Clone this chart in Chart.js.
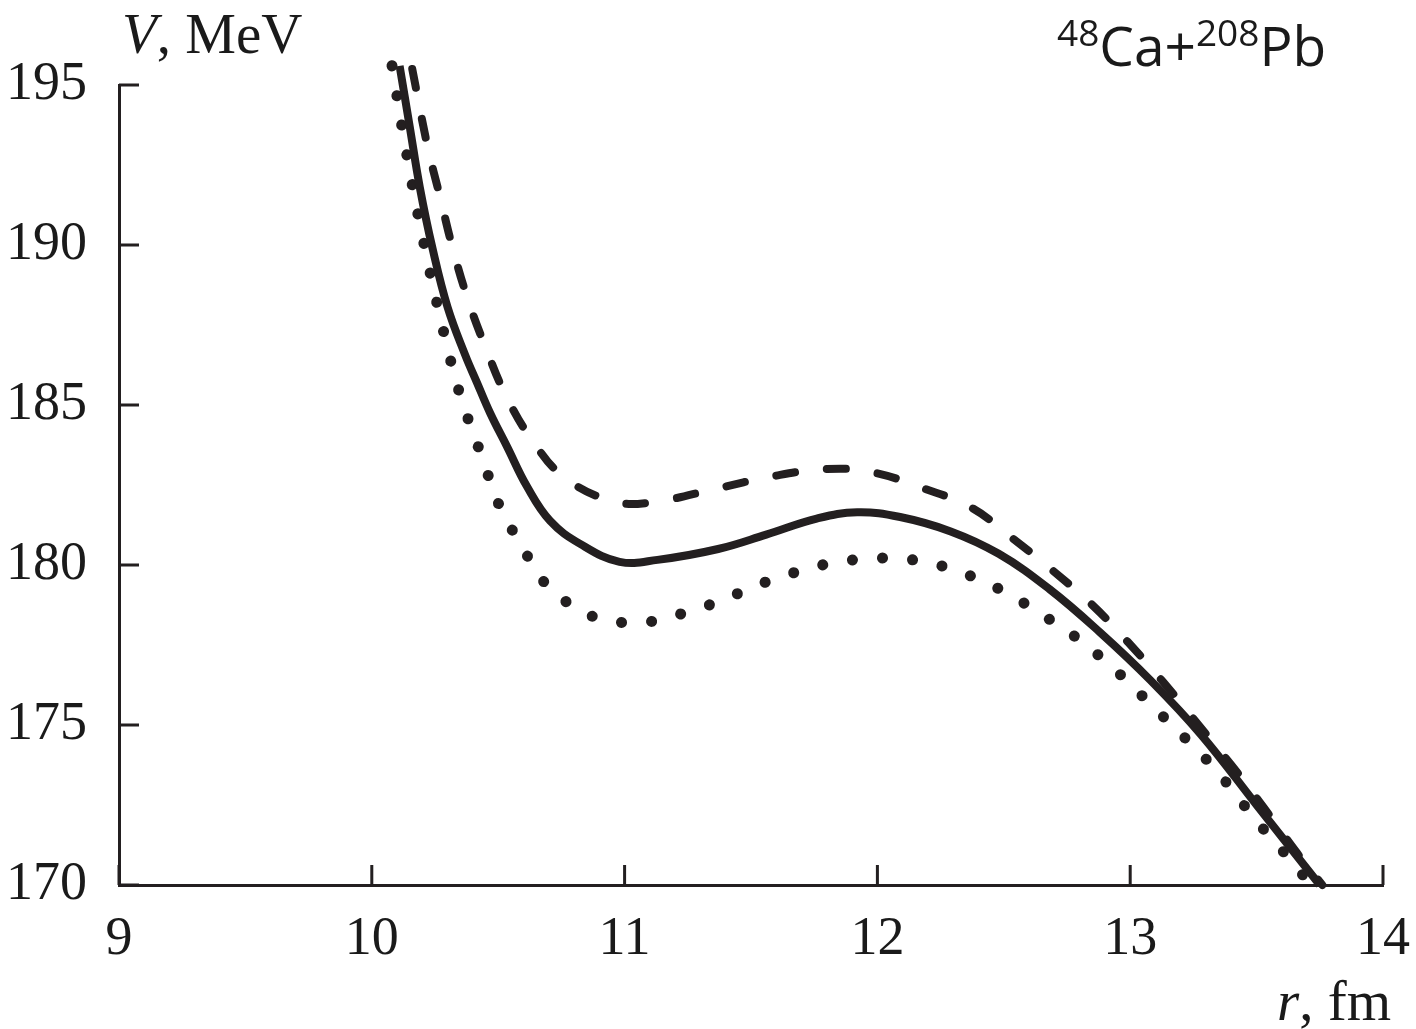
<!DOCTYPE html>
<html>
<head>
<meta charset="utf-8">
<script src="https://cdn.jsdelivr.net/npm/chart.js@4/dist/chart.umd.min.js"></script>
<style>
  html, body { margin: 0; padding: 0; background: #fff; }
  #wrap { width: 1416px; height: 1029px; }
</style>
</head>
<body>
<div id="wrap"><canvas id="chart" width="1416" height="1029"></canvas></div>
<script>
// axis ticks
const xTicks = [9, 10, 11, 12, 13, 14];
const yTicks = [170, 175, 180, 185, 190, 195];

// solid curve
const solidR = [10.11, 10.15, 10.19, 10.24, 10.30, 10.37, 10.416, 10.468, 10.535, 10.614, 10.705, 10.824, 10.98, 11.13, 11.37, 11.56, 11.76, 11.92, 12.09, 12.29, 12.48, 12.68, 12.88, 13.08, 13.28, 13.50, 13.75];
const solidV = [195.6, 193.7, 191.8, 189.9, 188.05, 186.55, 185.7, 184.75, 183.7, 182.45, 181.38, 180.66, 180.1, 180.16, 180.5, 180.95, 181.45, 181.65, 181.5, 181.05, 180.35, 179.25, 177.9, 176.4, 174.7, 172.5, 170.0];

// dashed curve
const dashedR = [10.16, 10.22, 10.27, 10.32, 10.38, 10.45, 10.53, 10.63, 10.76, 10.95, 11.10, 11.37, 11.57, 11.80, 11.98, 12.18, 12.37, 12.54, 12.69, 12.85, 12.99, 13.13, 13.26, 13.40, 13.53, 13.66, 13.76];
const dashedV = [195.5, 193.1, 191.5, 189.9, 188.3, 186.8, 185.3, 183.95, 182.75, 182.0, 181.95, 182.4, 182.75, 183.0, 182.9, 182.4, 181.8, 180.8, 179.85, 178.75, 177.6, 176.35, 175.1, 173.75, 172.4, 171.0, 170.0];

// dotted curve
const dottedR = [10.08, 10.14, 10.21, 10.29, 10.35, 10.43, 10.51, 10.57, 10.63, 10.70, 10.80, 10.91, 11.03, 11.15, 11.27, 11.39, 11.50, 11.61, 11.73, 11.85, 11.97, 12.09, 12.21, 12.32, 12.43, 12.54, 12.64, 12.74, 12.84, 12.93, 13.01, 13.10, 13.19, 13.28, 13.36, 13.43, 13.51, 13.59, 13.67, 13.75];
const dottedV = [195.6, 192.75, 189.9, 187.1, 185.3, 183.5, 181.75, 180.9, 180.1, 179.3, 178.7, 178.3, 178.2, 178.3, 178.6, 178.9, 179.3, 179.6, 179.9, 180.1, 180.2, 180.2, 180.06, 179.8, 179.45, 179.0, 178.5, 178.0, 177.4, 176.8, 176.2, 175.5, 174.8, 174.1, 173.4, 172.7, 171.9, 171.2, 170.4, 170.0];

const ink = '#231f20';
const serif = '"Liberation Serif", "DejaVu Serif", serif';

function pts(rs, vs) {
  return rs.map((r, i) => ({ x: r, y: vs[i] }));
}

// short tick marks pointing into the plot, plus the axis captions
const extras = {
  id: 'extras',
  afterDraw(chart) {
    const ctx = chart.ctx;
    const xs = chart.scales.x, ys = chart.scales.y;
    const area = chart.chartArea;
    ctx.save();
    ctx.strokeStyle = ink;
    ctx.lineWidth = 3;
    ctx.beginPath();
    xTicks.forEach(t => {
      const px = xs.getPixelForValue(t);
      ctx.moveTo(px, area.bottom);
      ctx.lineTo(px, area.bottom - 20);
    });
    yTicks.forEach(t => {
      const py = ys.getPixelForValue(t);
      ctx.moveTo(area.left, py);
      ctx.lineTo(area.left + 20, py);
    });
    ctx.stroke();

    ctx.fillStyle = '#1a1a1a';
    ctx.textBaseline = 'alphabetic';
    ctx.textAlign = 'left';
    // V, MeV
    ctx.font = 'italic 57px ' + serif;
    ctx.fillText('V', 122, 53);
    let w = ctx.measureText('V').width;
    ctx.font = '57px ' + serif;
    ctx.fillText(', MeV', 122 + w, 53);
    // r, fm
    ctx.font = 'italic 57px ' + serif;
    ctx.fillText('r', 1277, 1020);
    w = ctx.measureText('r').width;
    ctx.font = '57px ' + serif;
    ctx.fillText(', fm', 1277 + w, 1020);

    // 48Ca+208Pb
    const sans = '"Open Sans", Lato, sans-serif';
    const parts = [['48', true], ['Ca+', false], ['208', true], ['Pb', false]];
    let x = 1057;
    parts.forEach(([s, sup]) => {
      ctx.font = (sup ? '37px ' : '55px ') + sans;
      ctx.fillText(s, x, sup ? 46 : 66);
      x += ctx.measureText(s).width;
    });
    ctx.restore();
  }
};

const lineBase = {
  borderColor: ink,
  backgroundColor: ink,
  pointRadius: 0,
  fill: false,
  clip: false,
  tension: 0.4
};

new Chart(document.getElementById('chart'), {
  type: 'line',
  data: {
    datasets: [
      Object.assign({}, lineBase, {
        label: 'solid',
        data: pts(solidR, solidV),
        borderWidth: 8
      }),
      Object.assign({}, lineBase, {
        label: 'dashed',
        data: pts(dashedR, dashedV),
        borderWidth: 8,
        borderDash: [19, 32],
        borderCapStyle: 'round'
      }),
      Object.assign({}, lineBase, {
        label: 'dotted',
        data: pts(dottedR, dottedV),
        borderWidth: 11,
        borderDash: [0.1, 30],
        borderCapStyle: 'round'
      })
    ]
  },
  options: {
    responsive: false,
    animation: false,
    layout: { padding: { top: 85, right: 0, left: 0, bottom: 0 } },
    plugins: {
      legend: { display: false },
      tooltip: { enabled: false }
    },
    scales: {
      x: {
        type: 'linear',
        min: 9,
        max: 14,
        afterFit(s) {
          s.height = 144;
          s.paddingLeft = 0;
          s.paddingRight = 33;
        },
        afterBuildTicks(s) { s.ticks = xTicks.map(v => ({ value: v })); },
        grid: { display: false },
        border: { display: true, color: ink, width: 3 },
        ticks: {
          color: '#1a1a1a',
          font: { family: serif, size: 54 },
          padding: 14,
          maxRotation: 0
        }
      },
      y: {
        type: 'linear',
        min: 170,
        max: 195,
        afterFit(s) { s.width = 119; },
        afterBuildTicks(s) { s.ticks = yTicks.map(v => ({ value: v })); },
        grid: { display: false },
        border: { display: true, color: ink, width: 3 },
        ticks: {
          color: '#1a1a1a',
          font: { family: serif, size: 54 },
          padding: 24
        }
      }
    }
  },
  plugins: [extras]
});
</script>
</body>
</html>
